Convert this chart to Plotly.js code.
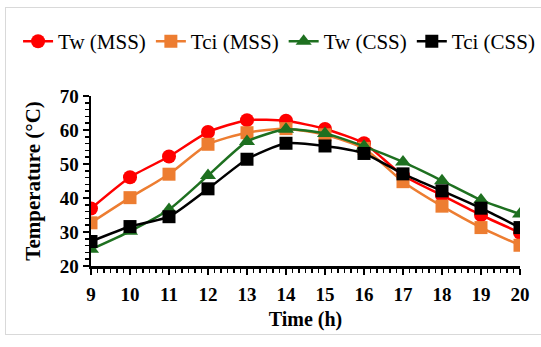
<!DOCTYPE html>
<html>
<head>
<meta charset="utf-8">
<script src="https://cdn.plot.ly/plotly-3.0.1.min.js"></script>
<style>
html,body{margin:0;padding:0;background:#fff;}
#frame{position:absolute;left:5px;top:7px;width:560px;height:326px;border:1px solid #d9d9d9;}
#chart{position:absolute;left:0;top:0;width:541px;height:347px;}
</style>
</head>
<body>
<div id="frame"></div>
<div id="chart"></div>
<script>
const hours = [9, 10, 11, 12, 13, 14, 15, 16, 17, 18, 19, 20];
const twMSS  = [36.9, 46.1, 52.2, 59.4, 62.9, 62.7, 60.3, 56.1, 46.6, 40.8, 35.0, 29.8];
const tciMSS = [32.7, 40.1, 47.0, 55.8, 59.2, 60.4, 58.6, 54.6, 44.8, 37.6, 31.3, 26.1];
const twCSS  = [24.9, 30.2, 36.6, 46.6, 56.6, 60.2, 59.0, 55.2, 50.6, 45.1, 39.4, 35.3];
const tciCSS = [27.2, 31.6, 34.5, 42.7, 51.4, 56.1, 55.3, 53.1, 47.1, 42.1, 37.0, 31.3];
const seriesNames = ['Tw (MSS)', 'Tci (MSS)', 'Tw (CSS)', 'Tci (CSS)'];
const tickLabels = hours.map(String);

const serif = '"Liberation Serif", "Times New Roman", serif';
function tr(name, y, color, symbol, size) {
  return {
    x: hours, y: y, name: name, type: 'scatter', mode: 'lines+markers',
    line: {color: color, width: 2.5, shape: 'spline', smoothing: 0.6},
    marker: {color: color, symbol: symbol, size: size}
  };
}
const data = [
  tr(seriesNames[0], twMSS, '#FF0000', 'circle', 14),
  tr(seriesNames[1], tciMSS, '#ED7D31', 'square', 13),
  tr(seriesNames[2], twCSS, '#1E7020', 'triangle-up', 14),
  tr(seriesNames[3], tciCSS, '#000000', 'square', 13)
];
const layout = {
  width: 541, height: 347,
  margin: {l: 91, r: 21, t: 96, b: 81},
  paper_bgcolor: 'rgba(0,0,0,0)', plot_bgcolor: 'rgba(0,0,0,0)',
  showlegend: true,
  legend: {
    orientation: 'h', x: -0.17, xanchor: 'left', y: 1.32, yanchor: 'middle',
    font: {family: serif, size: 21, color: '#000'}, itemwidth: 30,
    bgcolor: 'rgba(0,0,0,0)'
  },
  xaxis: {
    range: [9, 20], tickvals: hours, ticktext: tickLabels,
    showgrid: false, zeroline: false,
    showline: true, linecolor: '#000', linewidth: 2.5,
    ticks: 'outside', ticklen: 6, tickwidth: 2, tickcolor: '#000',
    ticklabelstandoff: 4,
    minor: {dtick: 1/6, ticks: 'outside', ticklen: 4, tickwidth: 1.5, tickcolor: '#000', showgrid: false},
    tickfont: {family: serif, size: 19, color: '#000', weight: 'bold'},
    title: {text: '<b>Time (h)</b>', font: {family: serif, size: 20, color: '#000'}, standoff: 8}
  },
  yaxis: {
    range: [20, 70], dtick: 10, tick0: 20,
    showgrid: false, zeroline: false,
    showline: true, linecolor: '#000', linewidth: 2.5,
    ticks: 'outside', ticklen: 6, tickwidth: 2, tickcolor: '#000',
    minor: {dtick: 2, ticks: 'outside', ticklen: 4, tickwidth: 1.5, tickcolor: '#000', showgrid: false},
    tickfont: {family: serif, size: 19, color: '#000', weight: 'bold'},
    automargin: false
  },
  annotations: [{
    text: '<b>Temperature (°C)</b>', xref: 'paper', yref: 'paper',
    x: -0.136, y: 0.5, xanchor: 'center', yanchor: 'middle', textangle: -90,
    showarrow: false, font: {family: serif, size: 21, color: '#000'}
  }]
};
Plotly.newPlot('chart', data, layout, {displayModeBar: false, staticPlot: true});
</script>
</body>
</html>
